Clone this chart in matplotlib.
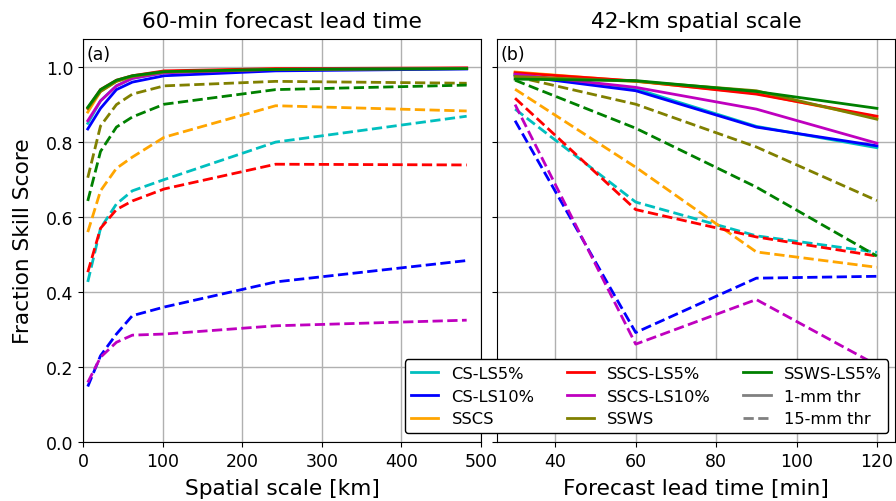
import matplotlib
matplotlib.use("Agg")
import matplotlib.pyplot as plt
from matplotlib.lines import Line2D

# Experiment names and colours
experiments = ["CS-LS5%", "CS-LS10%", "SSCS", "SSCS-LS5%", "SSCS-LS10%", "SSWS", "SSWS-LS5%"]
colors = ["c", "b", "orange", "r", "m", "olive", "g"]

# Panel (a): FSS vs spatial scale at 60-min lead time
scales_km = [6, 22, 42, 62, 102, 242, 482]
fss_scale_1mm = {
    "CS-LS5%":    [0.850, 0.910, 0.950, 0.970, 0.985, 0.993, 0.996],
    "CS-LS10%":   [0.835, 0.890, 0.940, 0.960, 0.977, 0.990, 0.995],
    "SSCS":       [0.880, 0.935, 0.962, 0.975, 0.988, 0.995, 0.997],
    "SSCS-LS5%":  [0.890, 0.940, 0.965, 0.977, 0.990, 0.996, 0.998],
    "SSCS-LS10%": [0.857, 0.910, 0.950, 0.970, 0.985, 0.994, 0.997],
    "SSWS":       [0.890, 0.935, 0.962, 0.975, 0.987, 0.994, 0.996],
    "SSWS-LS5%":  [0.893, 0.940, 0.965, 0.977, 0.988, 0.994, 0.996],
}
fss_scale_15mm = {
    "CS-LS5%":    [0.427, 0.570, 0.635, 0.670, 0.700, 0.800, 0.869],
    "CS-LS10%":   [0.148, 0.230, 0.288, 0.337, 0.360, 0.427, 0.484],
    "SSCS":       [0.560, 0.670, 0.730, 0.760, 0.813, 0.897, 0.883],
    "SSCS-LS5%":  [0.453, 0.570, 0.620, 0.643, 0.675, 0.741, 0.739],
    "SSCS-LS10%": [0.159, 0.226, 0.266, 0.285, 0.288, 0.310, 0.325],
    "SSWS":       [0.705, 0.843, 0.900, 0.928, 0.950, 0.962, 0.957],
    "SSWS-LS5%":  [0.643, 0.775, 0.840, 0.867, 0.901, 0.940, 0.952],
}

# Panel (b): FSS vs forecast lead time at 42-km scale
lead_min = [30, 60, 90, 120]
fss_lead_1mm = {
    "CS-LS5%":    [0.980, 0.942, 0.842, 0.785],
    "CS-LS10%":   [0.978, 0.937, 0.840, 0.790],
    "SSCS":       [0.987, 0.962, 0.930, 0.865],
    "SSCS-LS5%":  [0.985, 0.963, 0.928, 0.869],
    "SSCS-LS10%": [0.981, 0.946, 0.888, 0.797],
    "SSWS":       [0.975, 0.962, 0.937, 0.861],
    "SSWS-LS5%":  [0.968, 0.964, 0.935, 0.890],
}
fss_lead_15mm = {
    "CS-LS5%":    [0.888, 0.640, 0.550, 0.506],
    "CS-LS10%":   [0.857, 0.292, 0.437, 0.442],
    "SSCS":       [0.941, 0.733, 0.507, 0.466],
    "SSCS-LS5%":  [0.917, 0.620, 0.547, 0.496],
    "SSCS-LS10%": [0.900, 0.261, 0.380, 0.205],
    "SSWS":       [0.975, 0.901, 0.787, 0.644],
    "SSWS-LS5%":  [0.965, 0.837, 0.680, 0.496],
}

fig = plt.figure(figsize=(8.96, 5.02), dpi=100)
ax1 = fig.add_axes([83 / 896, 1 - 443 / 502, 398 / 896, 403 / 502])
ax2 = fig.add_axes([497 / 896, 1 - 443 / 502, 398 / 896, 403 / 502], sharey=ax1)

lw = 2
for name, col in zip(experiments, colors):
    ax1.plot(scales_km, fss_scale_1mm[name], color=col, lw=lw, ls="-")
    ax1.plot(scales_km, fss_scale_15mm[name], color=col, lw=lw, ls="--")
    ax2.plot(lead_min, fss_lead_1mm[name], color=col, lw=lw, ls="-")
    ax2.plot(lead_min, fss_lead_15mm[name], color=col, lw=lw, ls="--")

ax1.set_xlim(0, 500)
ax1.set_ylim(0, 1.075)
ax2.set_xlim(25.5, 124.5)

for ax in (ax1, ax2):
    ax.grid(True, color="#b0b0b0", lw=1)
    ax.tick_params(labelsize=12.5)
ax2.tick_params(labelleft=False)

ax1.set_yticks([0.0, 0.2, 0.4, 0.6, 0.8, 1.0])
ax1.set_xticks([0, 100, 200, 300, 400, 500])
ax2.set_xticks([40, 60, 80, 100, 120])

ax1.set_title("60-min forecast lead time", fontsize=15.6, pad=9)
ax2.set_title("42-km spatial scale", fontsize=15.6, pad=9)
ax1.set_xlabel("Spatial scale [km]", fontsize=15.6, labelpad=6)
ax2.set_xlabel("Forecast lead time [min]", fontsize=15.6, labelpad=6)
ax1.set_ylabel("Fraction Skill Score", fontsize=15.6, labelpad=9)

ax1.text(0.008, 0.985, "(a)", transform=ax1.transAxes, fontsize=12.5, va="top", ha="left")
ax2.text(0.008, 0.985, "(b)", transform=ax2.transAxes, fontsize=12.5, va="top", ha="left")

handles = [Line2D([], [], color=c, lw=lw) for c in colors]
labels = list(experiments)
handles += [Line2D([], [], color="grey", lw=lw, ls="-"),
            Line2D([], [], color="grey", lw=lw, ls="--")]
labels += ["1-mm thr", "15-mm thr"]
fig.legend(handles, labels, ncol=3, loc="lower right",
           bbox_to_anchor=(888 / 896, 1 - 434 / 502), borderaxespad=0,
           fontsize=11.7, framealpha=1, edgecolor="black", fancybox=True,
           handlelength=1.67, handletextpad=0.8, columnspacing=2.0,
           borderpad=0.4, labelspacing=0.48)

fig.savefig("out.png", dpi=100)
